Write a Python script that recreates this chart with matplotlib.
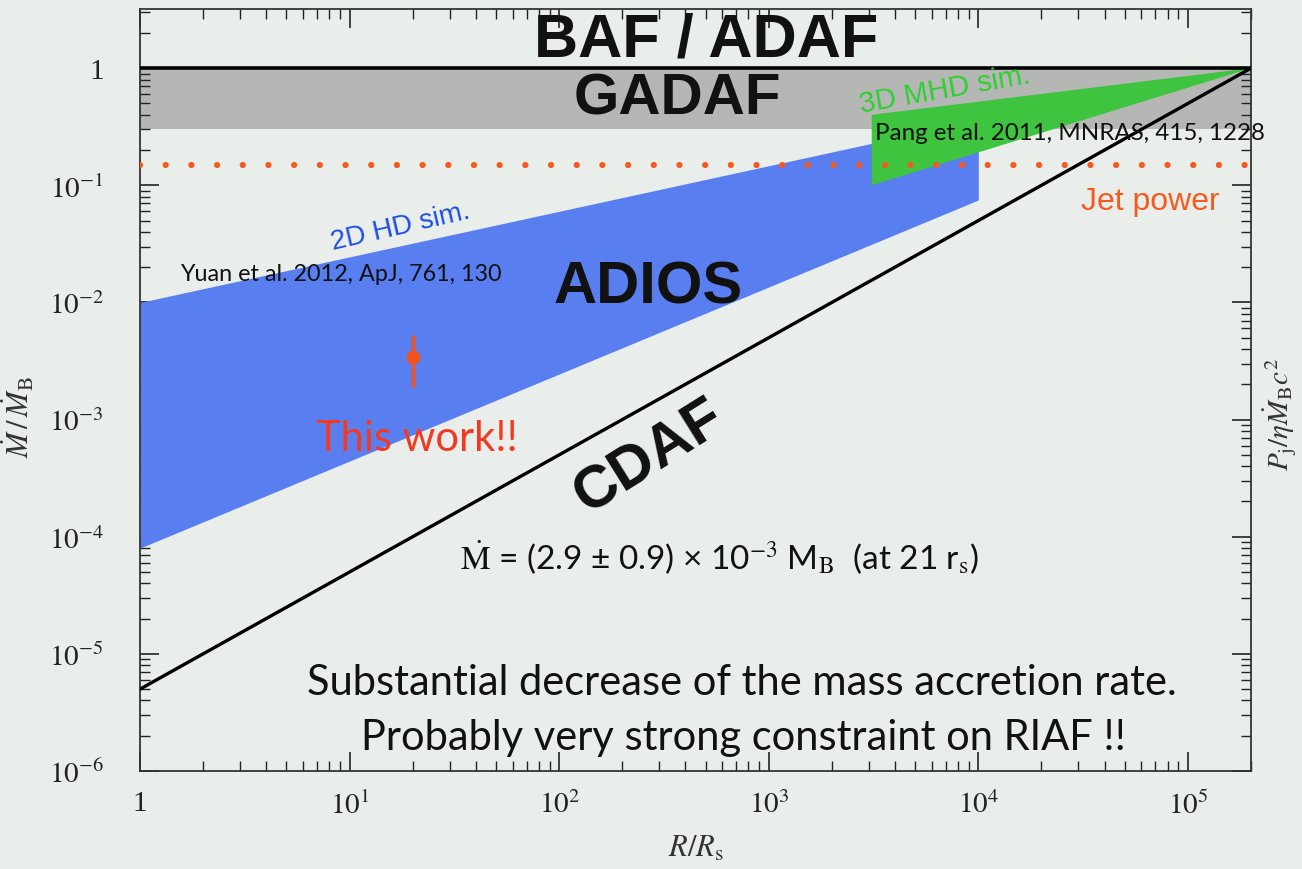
import matplotlib
matplotlib.use("Agg")
import matplotlib.pyplot as plt
import numpy as np

plt.rcParams['mathtext.fontset'] = 'stix'

# --- data ---
x_range = [1, 2e5]
y_range = [1e-6, 3.2]

gadaf_band = [0.3, 1.0]          # gray band (GADAF)
baf_level = 1.0                  # BAF / ADAF boundary
jet_power = 0.15                 # dotted line

# 2D HD simulation (blue band): R, upper, lower
hd_r = [1, 1e4]
hd_upper = [1e-2, 0.36]
hd_lower = [8e-5, 0.075]

# 3D MHD simulation (green wedge): polygon vertices
mhd_r = [3.1e3, 2e5, 3.1e3]
mhd_m = [0.40, 1.0, 0.10]

# CDAF line
cdaf_r = [1, 2e5]
cdaf_m = [5e-6, 1.0]

# this work
obs_r = [20]
obs_m = [3.4e-3]
obs_lo = [1.5e-3]
obs_hi = [1.9e-3]

x_ticks = [1, 1e1, 1e2, 1e3, 1e4, 1e5]
x_labels = ['1', '$10^{1}$', '$10^{2}$', '$10^{3}$', '$10^{4}$', '$10^{5}$']
y_ticks = [1e-6, 1e-5, 1e-4, 1e-3, 1e-2, 1e-1, 1]
y_labels = ['$10^{-6}$', '$10^{-5}$', '$10^{-4}$', '$10^{-3}$', '$10^{-2}$', '$10^{-1}$', '1']

bg = '#e9eeeb'
fig = plt.figure(figsize=(13.02, 8.70), dpi=100, facecolor=bg)
ax = fig.add_axes([140/1302, 1-772/870, 1111/1302, 762/870])
ax.set_facecolor(bg)
ax.set_xscale('log')
ax.set_yscale('log')
ax.set_xlim(x_range)
ax.set_ylim(y_range)

ax.axhspan(gadaf_band[0], gadaf_band[1], color='#b5b7b5', lw=0, zorder=1)
ax.fill_between(hd_r, hd_lower, hd_upper, color='#587ef0', lw=0, zorder=2)
ax.fill(mhd_r, mhd_m, color='#3ec43e', lw=0, zorder=3)
ax.axhline(baf_level, color='black', lw=2.6, zorder=4)
ax.plot(cdaf_r, cdaf_m, color='black', lw=2.4, zorder=4)
ax.axhline(jet_power, color='#f55a20', lw=4.5, ls=(0, (0.01, 4.1)),
           dash_capstyle='round', zorder=5)
ax.errorbar(obs_r, obs_m, yerr=[obs_lo, obs_hi], fmt='o', color='#f2521e',
            ms=9, elinewidth=2.5, capsize=0, zorder=6)

# ticks
ax.set_xticks(x_ticks)
ax.set_xticklabels(x_labels)
ax.set_yticks(y_ticks)
ax.set_yticklabels(y_labels)
ax.tick_params(which='both', direction='in', top=True, right=True,
               labelsize=21, colors='#222222')
ax.tick_params(axis='y', pad=26)
ax.tick_params(axis='x', pad=14)
ax.tick_params(which='major', length=14, width=1.2)
ax.tick_params(which='minor', length=7, width=1.0)
for t in ax.get_xticklabels() + ax.get_yticklabels():
    t.set_family('Liberation Serif')
for s in ax.spines.values():
    s.set_linewidth(1.3)
    s.set_color('#333333')

ax.set_xlabel(r'$R/R_{\rm s}$', fontsize=22, color='#333333', labelpad=10)
ax.set_ylabel(r'$\dot{M}\,/\,\dot{M}_{\rm B}$', fontsize=22, color='#333333')
ax.yaxis.set_label_coords(-0.094, 0.466)
fig.text(1280/1302, 1-415/870, r'$P_{\rm j}/\eta\dot{M}_{\rm B}c^2$', rotation=90,
         fontsize=21, color='#333333', ha='center', va='center')

# annotations
bold = dict(family='Liberation Sans', weight='bold', color='#111111',
            ha='center', va='center')
ax.text(500, 1.74, 'BAF / ADAF', fontsize=44, zorder=7, **bold)
ax.text(365, 0.55, 'GADAF', fontsize=42, zorder=7, **bold)
ax.text(266, 0.0135, 'ADIOS', fontsize=43, zorder=7, **bold)
ax.text(268, 4.8e-4, 'CDAF', fontsize=43, rotation=32, zorder=7, **bold)

ax.text(17.5, 0.045, '2D HD sim.', fontsize=20, color='#1f4fe0', rotation=13,
        family='Liberation Sans', ha='center', va='center', zorder=7)
ax.text(1.55, 0.0177, 'Yuan et al. 2012, ApJ, 761, 130', fontsize=16.8,
        family='Lato', color='#111111', ha='left', va='center', zorder=7)
ax.text(21, 6.9e-4, 'This work!!', fontsize=30, family='Lato',
        color='#f23a22', ha='center', va='center', zorder=7)
ax.text(6.9e3, 0.66, '3D MHD sim.', fontsize=21, color='#2ed02e', rotation=10,
        family='Liberation Sans', ha='center', va='center', zorder=7)
ax.text(3.2e3, 0.28, 'Pang et al. 2011, MNRAS, 415, 1228', fontsize=17.4,
        family='Lato', color='#111111', ha='left', va='center', zorder=7)
ax.text(6.6e4, 0.074, 'Jet power', fontsize=23, color='#f55a20',
        family='Liberation Sans', ha='center', va='center', zorder=7)
ax.text(33.7, 6.9e-5,
        r'$\dot{\mathrm{M}}$ = (2.9 ± 0.9) × 10$^{-3}$ M$_{\mathrm{B}}$  (at 21 r$_{\mathrm{s}}$)',
        fontsize=24, family='Lato', color='#111111', ha='left', va='center', zorder=7)
ax.text(742, 5.8e-6, 'Substantial decrease of the mass accretion rate.',
        fontsize=30, family='Lato', color='#111111', ha='center', va='center', zorder=7)
ax.text(755, 1.95e-6, 'Probably very strong constraint on RIAF !!',
        fontsize=30, family='Lato', color='#111111', ha='center', va='center', zorder=7)

fig.savefig('out.png', dpi=100, facecolor=bg)
